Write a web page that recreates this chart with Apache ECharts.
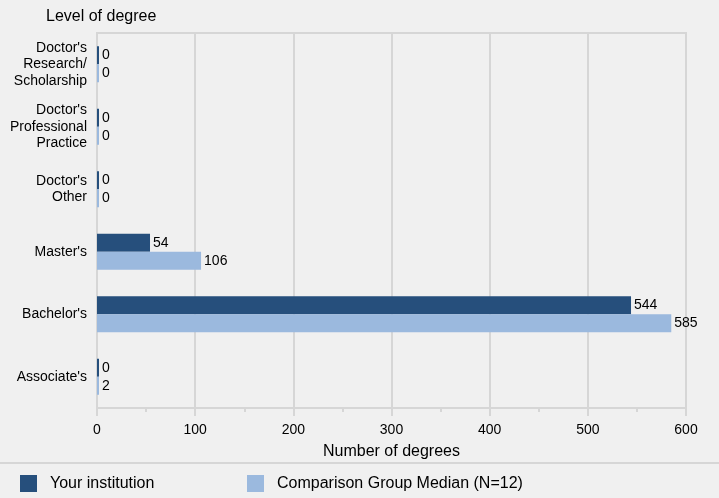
<!DOCTYPE html>
<html>
<head>
<meta charset="utf-8">
<script src="https://cdn.jsdelivr.net/npm/echarts@6/dist/echarts.min.js"></script>
<style>
  html, body { margin: 0; padding: 0; background: #f0f0f0; }
  #chart { width: 719px; height: 498px; }
</style>
</head>
<body>
<div id="chart"></div>
<script>
  // degree levels, top to bottom
  const categories = [
    "Doctor's\nResearch/\nScholarship",
    "Doctor's\nProfessional\nPractice",
    "Doctor's\nOther",
    "Master's",
    "Bachelor's",
    "Associate's"
  ];
  const institution = [0, 0, 0, 54, 544, 0];
  const comparison = [0, 0, 0, 106, 585, 2];
  const seriesNames = ['Your institution', 'Comparison Group Median (N=12)'];

  const gridColor = '#d6d6d6';
  const font = 'Liberation Sans, Arial, sans-serif';

  let myChart = echarts.init(document.getElementById('chart'));

  let option = {
    backgroundColor: '#f0f0f0',
    textStyle: { fontFamily: font },
    title: {
      text: 'Level of degree',
      left: 41,
      top: 4,
      textStyle: { fontSize: 16, fontWeight: 'normal', color: '#000', fontFamily: font }
    },
    grid: {
      left: 97,
      right: 33,
      top: 33,
      bottom: 90,
      show: true,
      borderColor: gridColor,
      borderWidth: 2,
      backgroundColor: 'transparent'
    },
    legend: [
      {
        data: [seriesNames[0]],
        left: 15,
        top: 470,
        icon: 'rect',
        itemWidth: 17,
        itemHeight: 17,
        itemGap: 0,
        textStyle: { fontSize: 16, color: '#000', padding: [0, 0, 0, 8], fontFamily: font }
      },
      {
        data: [seriesNames[1]],
        left: 242,
        top: 470,
        icon: 'rect',
        itemWidth: 17,
        itemHeight: 17,
        itemGap: 0,
        textStyle: { fontSize: 16, color: '#000', padding: [0, 0, 0, 8], fontFamily: font }
      }
    ],
    xAxis: {
      type: 'value',
      min: 0,
      max: 600,
      interval: 100,
      name: 'Number of degrees',
      nameLocation: 'middle',
      nameGap: 36,
      nameTextStyle: { fontSize: 16, color: '#000', fontFamily: font },
      axisLine: { show: true, lineStyle: { color: gridColor, width: 2 } },
      axisTick: { show: true, length: 8, lineStyle: { color: gridColor, width: 2 } },
      minorTick: { show: true, splitNumber: 2, length: 4, lineStyle: { color: gridColor, width: 2 } },
      axisLabel: { fontSize: 14, color: '#000', margin: 15, fontFamily: font },
      splitLine: { show: true, lineStyle: { color: gridColor, width: 2 } }
    },
    yAxis: {
      type: 'category',
      data: categories,
      inverse: true,
      axisLine: { show: true, lineStyle: { color: gridColor, width: 2 } },
      axisTick: { show: false },
      axisLabel: { fontSize: 14, color: '#000', margin: 10, lineHeight: 16.5, align: 'right', fontFamily: font },
      splitLine: { show: false }
    },
    series: [
      {
        name: seriesNames[0],
        type: 'bar',
        data: institution,
        barWidth: 18,
        barGap: '0%',
        barMinHeight: 2,
        itemStyle: { color: '#264f7c' },
        label: { show: true, position: 'right', distance: 3, fontSize: 14, color: '#000', fontFamily: font }
      },
      {
        name: seriesNames[1],
        type: 'bar',
        data: comparison,
        barWidth: 18,
        barGap: '0%',
        barMinHeight: 2,
        itemStyle: { color: '#9bb9de' },
        label: { show: true, position: 'right', distance: 3, fontSize: 14, color: '#000', fontFamily: font }
      }
    ],
    graphic: [
      {
        type: 'line',
        shape: { x1: 0, y1: 463, x2: 719, y2: 463 },
        style: { stroke: gridColor, lineWidth: 2 },
        silent: true
      }
    ]
  };

  myChart.setOption(option);
</script>
</body>
</html>
